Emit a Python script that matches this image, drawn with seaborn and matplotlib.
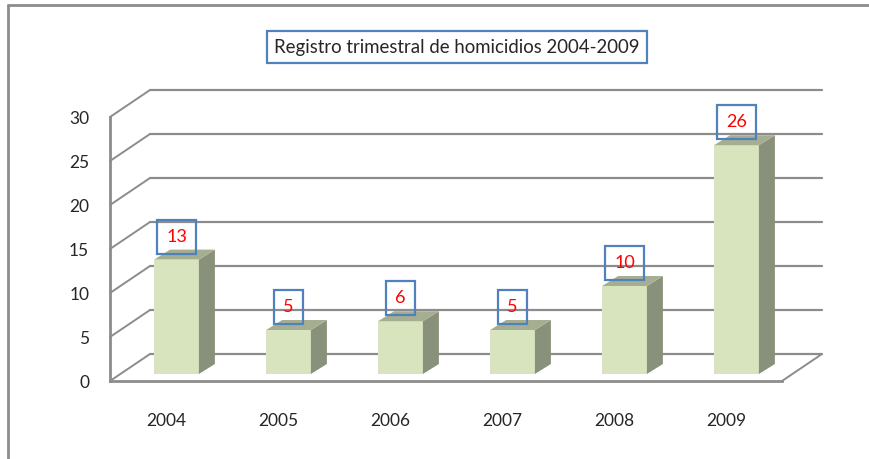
import numpy as np
import pandas as pd
import seaborn as sns
import matplotlib.pyplot as plt
import matplotlib.transforms as mtransforms
from matplotlib.patches import Polygon
from matplotlib.lines import Line2D

# data
years = ["2004", "2005", "2006", "2007", "2008", "2009"]
homicides = [13, 5, 6, 5, 10, 26]
y_ticks = [0, 5, 10, 15, 20, 25, 30]
title = "Registro trimestral de homicidios 2004-2009"

front_col = "#D7E4BD"
side_col = "#8A917A"
top_col = "#A6AE92"
grid_col = "#8C8C8C"
box_col = "#4F81BD"

sns.set_style("white")
plt.rcParams['font.family'] = ['Lato', 'DejaVu Sans']

fig = plt.figure(figsize=(8.7, 4.59), dpi=100)
W, H = 870, 459
# front plane of the 3d box
ax = fig.add_axes([110 / W, (H - 381) / H, 672 / W, 264 / H])

df = pd.DataFrame({"year": years, "n": homicides})
sns.barplot(data=df, x="year", y="n", color=front_col, width=0.4,
            saturation=1, ax=ax, zorder=3, linewidth=0)
ax.set_xlim(-0.5, len(years) - 0.5)
ax.set_ylim(0, 30)

px_x = 672 / len(years)
px_y = 264 / 30


def shift(dx, dy):
    return ax.transData + mtransforms.ScaledTranslation(dx / 100, dy / 100, fig.dpi_scale_trans)


back = shift(40, 27)
bar_plane = shift(10.5, 7)

# back wall grid lines + diagonals on the left side
for t in y_ticks:
    ax.add_line(Line2D([-0.5, len(years) - 0.5], [t, t], color=grid_col, lw=1.6,
                       transform=back, clip_on=False, zorder=1))
    ax.add_line(Line2D([-0.5, -0.5 + 40 / px_x], [t, t + 27 / px_y], color=grid_col,
                       lw=1.4, clip_on=False, zorder=1))
# floor right diagonal
ax.add_line(Line2D([len(years) - 0.5, len(years) - 0.5 + 40 / px_x], [0, 27 / px_y],
                   color=grid_col, lw=1.4, clip_on=False, zorder=1))

# move bars into their plane and add side / top faces
ddx, ddy = 16 / px_x, 10 / px_y
for p in ax.patches:
    p.set_transform(bar_plane)
    x0 = p.get_x()
    x1 = x0 + p.get_width()
    h = p.get_height()
    side = Polygon([[x1, 0], [x1 + ddx, ddy], [x1 + ddx, h + ddy], [x1, h]],
                   closed=True, facecolor=side_col, edgecolor="none",
                   transform=bar_plane, zorder=3, clip_on=False)
    top = Polygon([[x0, h], [x1, h], [x1 + ddx, h + ddy], [x0 + ddx, h + ddy]],
                  closed=True, facecolor=top_col, edgecolor="none",
                  transform=bar_plane, zorder=3, clip_on=False)
    ax.add_patch(side)
    ax.add_patch(top)

# value labels
for i, v in enumerate(homicides):
    ax.annotate(str(v), xy=(i, v), xytext=(0, 16.5), textcoords="offset points",
                xycoords=bar_plane, ha="center", va="center", color="red",
                fontsize=13, zorder=5,
                bbox=dict(boxstyle="square,pad=0.5", facecolor="none",
                          edgecolor=box_col, lw=1.6))

# axes styling
sns.despine(ax=ax, top=True, right=True)
for s in ["left", "bottom"]:
    ax.spines[s].set_color(grid_col)
    ax.spines[s].set_linewidth(2)
    ax.spines[s].set_zorder(4)
ax.set_yticks(y_ticks)
ax.set_yticklabels([str(t) for t in y_ticks], fontsize=12.5)
ax.set_xticks(np.arange(-0.5, len(years), 1.0), minor=True)
ax.tick_params(axis="x", which="major", length=0, pad=23, labelsize=12.5)
ax.tick_params(axis="x", which="minor", length=7, width=2, color=grid_col, direction="out")
ax.tick_params(axis="y", length=7, width=2, color=grid_col, direction="out", pad=8)
ax.set_xlabel("")
ax.set_ylabel("")
ax.set_facecolor("none")

# title box
fig.text(457 / W, 1 - 47 / H, title, ha="center", va="center", fontsize=13.4,
         bbox=dict(boxstyle="square,pad=0.4", facecolor="white",
                   edgecolor=box_col, lw=1.6))

# outer chart border (left and top visible)
fig.add_artist(Line2D([8 / W, 8 / W], [0, 1 - 5 / H], color="#8C8C8C", lw=2,
                      transform=fig.transFigure))
fig.add_artist(Line2D([8 / W, 1], [1 - 5 / H, 1 - 5 / H], color="#8C8C8C", lw=2,
                      transform=fig.transFigure))

fig.savefig("out.png", dpi=100)
